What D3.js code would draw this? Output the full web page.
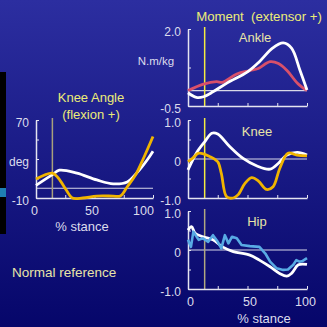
<!DOCTYPE html>
<html>
<head>
<meta charset="utf-8">
<script src="https://cdn.jsdelivr.net/npm/d3@7/dist/d3.min.js"></script>
<style>
  body { margin: 0; background: #000; }
  svg text { font-family: "Liberation Sans", Arial, sans-serif; white-space: pre; }
</style>
</head>
<body>
<script>
// knee angle (deg) vs % stance
var kneeAnglePct = [0, 14, 20, 35, 52, 66, 78, 86, 95, 100];
var kneeAngleNormal = [3, 14, 18.5, 15.5, 8.5, 4.5, 6.5, 15.5, 29, 38];
var kneeAnglePatPct = [0, 14, 19, 26, 31, 40, 52, 66, 72, 78, 85, 92, 100];
var kneeAnglePatient = [9.5, 15.5, 10.5, -2, -10, -10, -8, -8, -8, 1.5, 13.5, 31, 53];

// ankle moment
var anklePct = [0, 7, 13, 21, 33, 50, 60, 71, 80, 87, 94, 100];
var ankleNormal = [-0.07, -0.22, -0.2, -0.04, 0.25, 0.61, 0.94, 1.38, 1.55, 1.38, 0.67, 0.02];
var anklePatPct = [0, 13, 24, 29, 41, 52, 59, 69, 76, 83, 92, 100];
var anklePatient = [0, 0.21, 0.29, 0.27, 0.54, 0.65, 0.72, 0.94, 0.88, 0.66, 0.24, 0];

// knee moment
var kneeMomPct = [0, 7, 14, 20, 25, 35, 46, 58, 69, 76, 83, 92, 100];
var kneeMomNormal = [-0.28, 0.15, 0.44, 0.66, 0.64, 0.32, 0.02, -0.18, -0.26, -0.11, 0.1, 0.17, 0.1];
var kneeMomPatPct = [0, 4, 9, 18.5, 25, 28, 32.5, 38, 42, 48, 53.5, 59, 66, 71.5, 77, 84, 91.5, 100];
var kneeMomPatient = [-0.07, 0.02, 0.15, 0.06, -0.07, -0.37, -0.97, -1.0, -0.92, -0.62, -0.48, -0.56, -0.78, -0.71, -0.25, 0.15, 0.1, 0.08];

// hip moment
var hipPct = [0, 3, 6, 12.6, 21, 29, 38, 52, 60, 69, 77, 83, 87, 92.7, 100];
var hipNormal = [0.51, 0.6, 0.43, 0.34, 0.26, 0.08, -0.04, -0.13, -0.26, -0.43, -0.6, -0.67, -0.6, -0.38, -0.37];
var hipPatPct = [0, 2.5, 4.5, 9, 12.6, 17, 21, 25, 28, 31, 34, 37, 41, 45, 52, 60, 65, 69, 74.5, 80, 84, 88.5, 91, 93.6, 96.4, 100];
var hipPatient = [0.26, 0.08, 0.47, 0.26, 0.3, 0.21, 0.38, 0.21, 0.04, 0.38, 0.17, 0.34, 0.3, 0.13, 0.1, 0.08, -0.09, -0.3, -0.47, -0.51, -0.5, -0.38, -0.26, -0.3, -0.28, -0.21];

var toeOffPct = 14;

var W = 327, H = 327;
var svg = d3.select("body").append("svg").attr("width", W).attr("height", H);

var grad = svg.append("defs").append("linearGradient").attr("id", "bg")
  .attr("x1", 0).attr("y1", 0).attr("x2", 0).attr("y2", 1);
grad.append("stop").attr("offset", "0%").attr("stop-color", "#2c2ea0");
grad.append("stop").attr("offset", "100%").attr("stop-color", "#06066a");
svg.append("rect").attr("width", W).attr("height", H).attr("fill", "url(#bg)");

// black strip on the left with blue bar
svg.append("rect").attr("x", 0).attr("y", 72).attr("width", 6).attr("height", 162).attr("fill", "#000");
svg.append("rect").attr("x", 0).attr("y", 188).attr("width", 6).attr("height", 9).attr("fill", "#1f7fb3");

var axisCol = "#e4e4f0", textCol = "#dcdcec";

function panel(o) {
  var x = d3.scaleLinear().domain([0, 100]).range(o.xr);
  var y = d3.scaleLinear().domain(o.yd).range(o.yr);
  var g = svg.append("g");

  // zero line
  g.append("line").attr("x1", x(0)).attr("x2", x(100)).attr("y1", y(0)).attr("y2", y(0))
    .attr("stroke", "#d8d8e8").attr("stroke-width", 1.2);
  // toe-off line
  g.append("line").attr("x1", x(toeOffPct)).attr("x2", x(toeOffPct))
    .attr("y1", o.yr[1] - 2).attr("y2", o.yr[0])
    .attr("stroke", o.vcol).attr("stroke-width", 1.5);

  var yAxis = d3.axisLeft(y).tickValues(o.yticks).tickSizeInner(-3).tickSizeOuter(0).tickPadding(7)
    .tickFormat(function(d) { return o.ylabels[o.yticks.indexOf(d)]; });
  var ya = g.append("g").attr("transform", "translate(" + x(0) + ",0)").call(yAxis);
  ya.select(".domain").attr("stroke", axisCol).attr("stroke-width", 1.5);
  ya.selectAll("line").attr("stroke", axisCol);
  ya.selectAll("text").attr("fill", textCol).attr("font-size", 12).attr("dy", "0.55em");

  var xAxis = d3.axisBottom(x).tickValues([0, 25, 50, 75, 100]).tickSizeInner(-3).tickSizeOuter(0).tickPadding(8)
    .tickFormat(function(d) { return o.xlabels && d % 50 === 0 ? d : ""; });
  var xa = g.append("g").attr("transform", "translate(0," + o.yr[0] + ")").call(xAxis);
  xa.select(".domain").attr("stroke", axisCol).attr("stroke-width", 1.5);
  xa.selectAll("line").attr("stroke", axisCol);
  xa.selectAll("text").attr("fill", textCol).attr("font-size", 12.5);
  if (o.xlabelShift) xa.selectAll("text").attr("dx", function(d) { return o.xlabelShift[d / 50] || 0; });

  o.series.forEach(function(s) {
    var line = d3.line().x(function(d, i) { return x(s.pct[i]); }).y(function(d) { return y(d); })
      .curve(s.curve || d3.curveCatmullRom.alpha(0.5));
    g.append("path").attr("d", line(s.vals)).attr("fill", "none")
      .attr("stroke", s.col).attr("stroke-width", s.w || 2.8).attr("stroke-linejoin", "round");
  });
  return { x: x, y: y, g: g };
}

// knee angle
panel({
  xr: [36, 153], yd: [-10, 70], yr: [198, 120],
  yticks: [-10, 10, 30, 50, 70], ylabels: ["-10", "", "deg", "", "70"],
  xlabels: true, xlabelShift: [-2, -3, -10],
  vcol: "#a8a07c",
  series: [
    { pct: kneeAnglePct, vals: kneeAngleNormal, col: "#ffffff" },
    { pct: kneeAnglePatPct, vals: kneeAnglePatient, col: "#f0b400" }
  ]
});

// ankle moment
panel({
  xr: [188, 307], yd: [-0.5, 2], yr: [106, 29],
  yticks: [-0.5, 0.75, 2], ylabels: ["-0.5", "", "2.0"],
  xlabels: false, vcol: "#f4ec40",
  series: [
    { pct: anklePatPct, vals: anklePatient, col: "#d8506a" },
    { pct: anklePct, vals: ankleNormal, col: "#ffffff" }
  ]
});

// knee moment
panel({
  xr: [188, 307], yd: [-1, 1], yr: [198, 120],
  yticks: [-1, -0.5, 0, 0.5, 1], ylabels: ["-1.0", "", "0", "", "1.0"],
  xlabels: false, vcol: "#f4ec40",
  series: [
    { pct: kneeMomPct, vals: kneeMomNormal, col: "#ffffff" },
    { pct: kneeMomPatPct, vals: kneeMomPatient, col: "#f0b400" }
  ]
});

// hip moment
panel({
  xr: [188, 307], yd: [-1, 1], yr: [289, 211],
  yticks: [-1, -0.5, 0, 0.5, 1], ylabels: ["-1.0", "", "0", "", "1.0"],
  xlabels: true, xlabelShift: [2, 2, -2],
  vcol: "#b0a880",
  series: [
    { pct: hipPct, vals: hipNormal, col: "#ffffff" },
    { pct: hipPatPct, vals: hipPatient, col: "#58aae4", curve: d3.curveLinear, w: 2.6 }
  ]
});

function label(t, x, y, col, size, anchor) {
  svg.append("text").attr("x", x).attr("y", y).attr("fill", col).attr("font-size", size)
    .attr("text-anchor", anchor || "middle").text(t);
}
var yel = "#ecec78", pale = "#e8e4a8";
label("Moment  (extensor +)", 259, 21, yel, 13.2);
label("Knee Angle", 91, 102, yel, 13);
label("(flexion +)", 91, 119, yel, 13);
label("Ankle", 255, 42, pale, 13);
label("Knee", 257, 136, pale, 13);
label("Hip", 257, 226, pale, 13);
label("N.m/kg", 156, 65, textCol, 11.5);
label("% stance", 82, 231, textCol, 13);
label("% stance", 264, 323, textCol, 13);
label("Normal reference", 12, 277, pale, 13.5, "start");
</script>
</body>
</html>
